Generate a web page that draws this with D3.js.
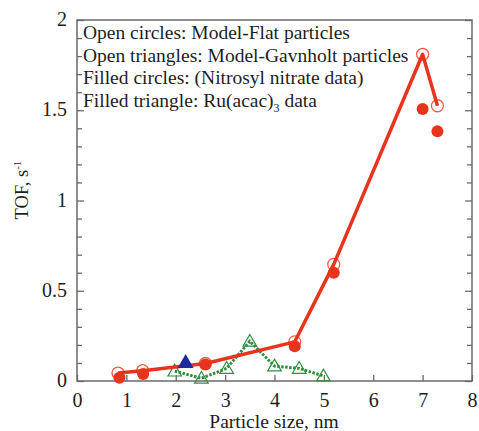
<!DOCTYPE html>
<html>
<head>
  <meta charset="utf-8">
  <script src="https://d3js.org/d3.v7.min.js"></script>
  <style type="text/css">
    body { margin: 0; background: #fff; }
    .lbl { font-family: "Liberation Serif", "Times New Roman", serif; fill: #1e1e1e; }
  </style>
</head>
<body>
  <script type="text/javascript">
    // Model-Flat particles (open circles, red line)
    var flatX = [0.83, 1.33, 2.6, 4.41, 5.2, 7.0, 7.3];
    var flatY = [0.044, 0.057, 0.097, 0.217, 0.646, 1.81, 1.525];
    // Nitrosyl nitrate data (filled circles)
    var nitX = [0.86, 1.34, 2.6, 4.41, 5.2, 7.0, 7.3];
    var nitY = [0.018, 0.039, 0.092, 0.193, 0.60, 1.507, 1.383];
    // Model-Gavnholt particles (open triangles, green dotted)
    var gavX = [1.98, 2.52, 3.03, 3.5, 4.0, 4.5, 4.99];
    var gavY = [0.055, 0.015, 0.07, 0.22, 0.083, 0.07, 0.028];
    // Ru(acac)3 data (filled triangle)
    var ruX = [2.2];
    var ruY = [0.098];

    var xTicks = [0, 1, 2, 3, 4, 5, 6, 7, 8];
    var yTicks = [0, 0.5, 1, 1.5, 2];
    var legendLines = [
      "Open circles: Model-Flat particles",
      "Open triangles: Model-Gavnholt particles",
      "Filled circles: (Nitrosyl nitrate data)"
    ];

    var W = 479, H = 431;
    var pLeft = 77, pRight = 472, pTop = 20, pBottom = 381;
    var red = "#e8341c", green = "#2f8f3e", blue = "#1c2a9c", axisCol = "#6a6a6a";

    var svg = d3.select("body").append("svg")
        .attr("width", W)
        .attr("height", H);

    var x = d3.scaleLinear().domain([0, 8]).range([pLeft, pRight]);
    var y = d3.scaleLinear().domain([0, 2]).range([pBottom, pTop]);

    // frame
    svg.append("rect")
      .attr("x", pLeft).attr("y", pTop)
      .attr("width", pRight - pLeft).attr("height", pBottom - pTop)
      .attr("fill", "none").attr("stroke", axisCol).attr("stroke-width", 1.5);

    // bottom axis, ticks inward
    var xAxis = svg.append("g")
      .attr("transform", "translate(0," + pBottom + ")")
      .call(d3.axisBottom(x).tickValues(xTicks).tickSizeInner(-6).tickSizeOuter(0).tickPadding(12));
    // left axis, minor ticks every 0.1
    var yMinor = d3.range(0, 2.001, 0.1);
    var isMajor = function(d) { return yTicks.indexOf(Math.round(d * 10) / 10) >= 0; };
    var yAxis = svg.append("g")
      .attr("transform", "translate(" + pLeft + ",0)")
      .call(d3.axisLeft(y).tickValues(yMinor).tickSizeInner(-5).tickSizeOuter(0).tickPadding(10)
        .tickFormat(function(d) { return isMajor(d) ? d3.format("")(Math.round(d * 10) / 10) : ""; }));
    var yRight = svg.append("g")
      .attr("transform", "translate(" + pRight + ",0)")
      .call(d3.axisRight(y).tickValues(yMinor).tickSizeInner(-5).tickSizeOuter(0).tickFormat(""));

    [xAxis, yAxis, yRight].forEach(function(g) {
      g.select(".domain").remove();
      g.selectAll("line").attr("stroke", axisCol).attr("stroke-width", 1.3);
      g.selectAll("text").attr("class", "lbl").style("font-size", "20px").attr("fill", "#1e1e1e");
    });
    yAxis.selectAll(".tick line").attr("x2", function(d) { return isMajor(d) ? 7 : 5; });
    yRight.selectAll(".tick line").attr("x2", function(d) { return isMajor(d) ? -7 : -5; });
    yAxis.selectAll(".tick text").attr("dy", "0.28em");

    // axis titles
    svg.append("text").attr("class", "lbl")
      .attr("x", 274).attr("y", 428)
      .attr("text-anchor", "middle").style("font-size", "19.5px")
      .text("Particle size, nm");
    var yt = svg.append("text").attr("class", "lbl")
      .attr("transform", "translate(28,190) rotate(-90)")
      .attr("text-anchor", "middle").style("font-size", "18.5px");
    yt.append("tspan").text("TOF, s");
    yt.append("tspan").attr("dy", -7).style("font-size", "11px").text("-1");

    var line = d3.line().x(function(d) { return x(d[0]); }).y(function(d) { return y(d[1]); });
    var tri = d3.symbol().type(d3.symbolTriangle).size(80);

    // green dotted line + open triangles
    var gav = d3.zip(gavX, gavY);
    svg.append("path").datum(gav).attr("d", line)
      .attr("fill", "none").attr("stroke", green).attr("stroke-width", 3)
      .attr("stroke-dasharray", "2.5,1.5");
    svg.selectAll(".gav").data(gav).enter().append("path")
      .attr("transform", function(d) { return "translate(" + x(d[0]) + "," + (y(d[1]) + 1) + ")"; })
      .attr("d", tri).attr("fill", "none").attr("stroke", green).attr("stroke-width", 1.2);

    // red line through model-flat points
    var flat = d3.zip(flatX, flatY);
    svg.append("path").datum(flat).attr("d", line)
      .attr("fill", "none").attr("stroke", red).attr("stroke-width", 3.5)
      .attr("stroke-linejoin", "round");
    svg.selectAll(".flat").data(flat).enter().append("circle")
      .attr("cx", function(d) { return x(d[0]); })
      .attr("cy", function(d) { return y(d[1]); })
      .attr("r", 6).attr("fill", "none").attr("stroke", red).attr("stroke-width", 1.3)
      .attr("stroke-opacity", 0.8);

    // filled circles
    var nit = d3.zip(nitX, nitY);
    svg.selectAll(".nit").data(nit).enter().append("circle")
      .attr("cx", function(d) { return x(d[0]); })
      .attr("cy", function(d) { return y(d[1]); })
      .attr("r", 6).attr("fill", red);

    // blue filled triangle
    svg.selectAll(".ru").data(d3.zip(ruX, ruY)).enter().append("path")
      .attr("transform", function(d) { return "translate(" + x(d[0]) + "," + y(d[1]) + ")"; })
      .attr("d", d3.symbol().type(d3.symbolTriangle).size(110)).attr("fill", blue);

    // legend text
    legendLines.forEach(function(t, i) {
      svg.append("text").attr("class", "lbl")
        .attr("x", 83).attr("y", 39 + i * 22.5)
        .style("font-size", "19.5px").text(t);
    });
    var last = svg.append("text").attr("class", "lbl")
      .attr("x", 83).attr("y", 39 + 3 * 22.5).style("font-size", "19.5px");
    last.append("tspan").text("Filled triangle: Ru(acac)");
    last.append("tspan").attr("dy", 5).style("font-size", "12px").text("3");
    last.append("tspan").attr("dy", -5).text(" data");
  </script>
</body>
</html>
